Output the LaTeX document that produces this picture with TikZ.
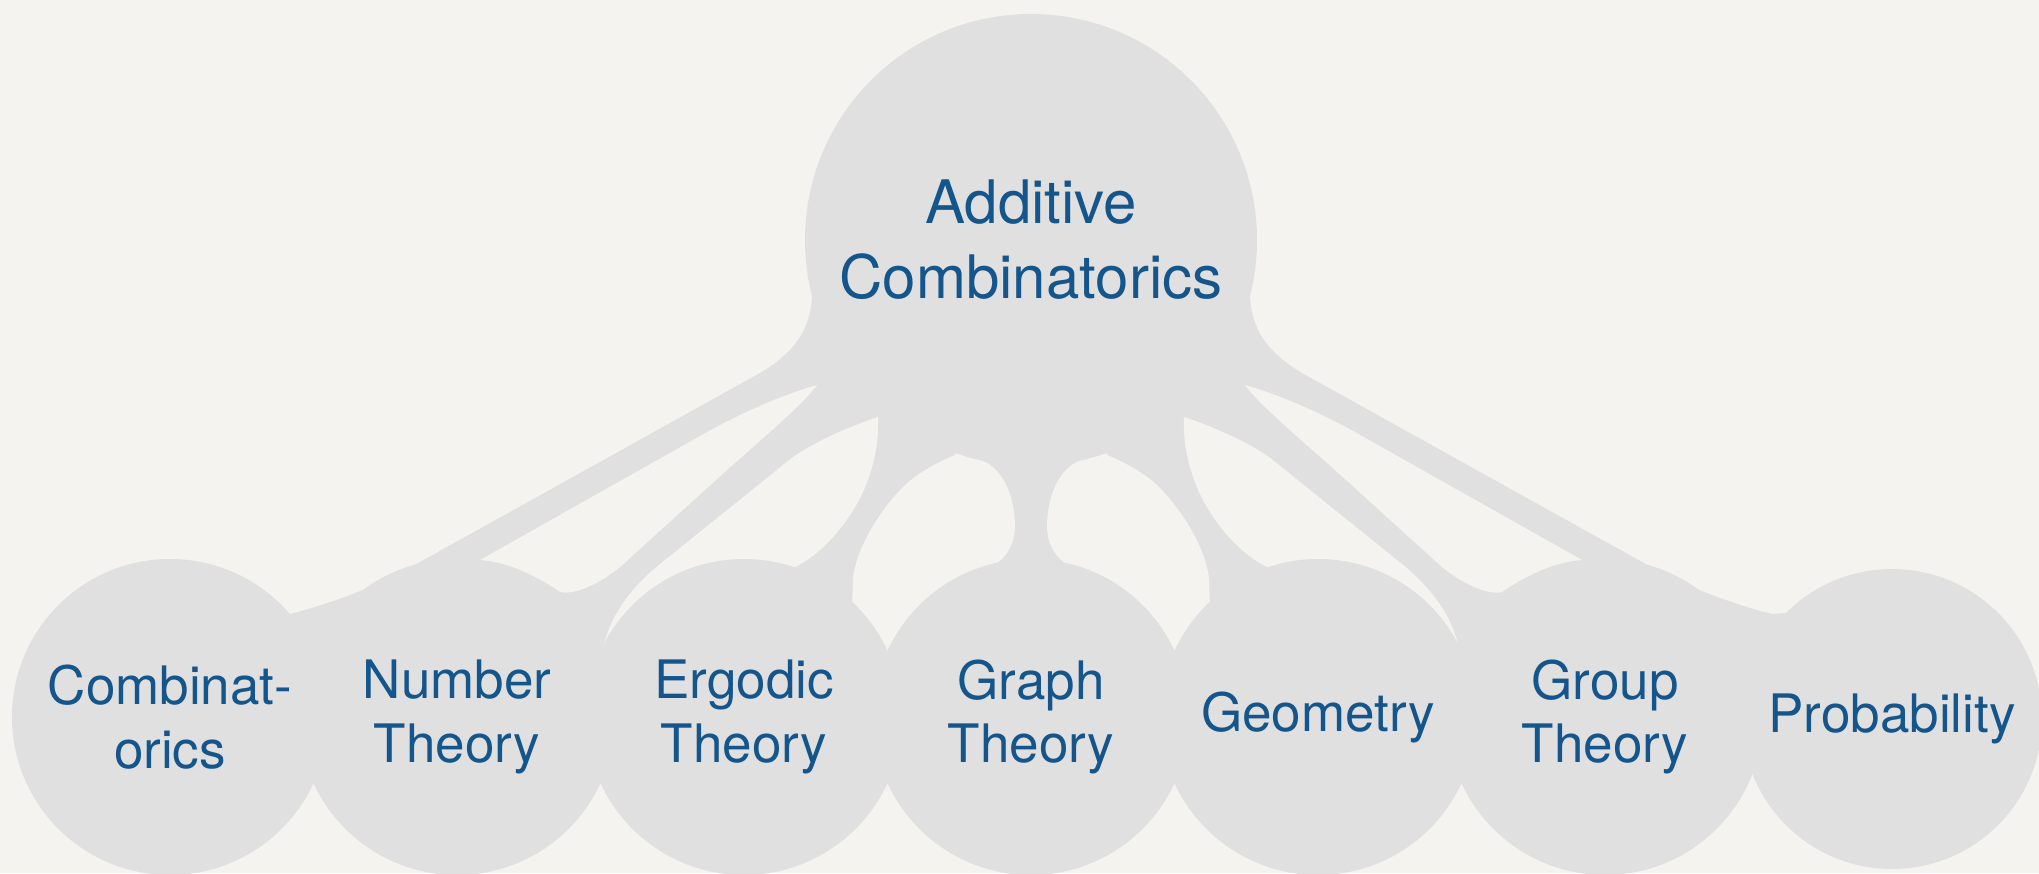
\documentclass[tikz,border=0pt]{standalone}
\usepackage{fontspec}
\setmainfont{TeX Gyre Heros}
\pgfdeclarelayer{bgl}
\pgfdeclarelayer{hulll}
\pgfdeclarelayer{arml}
\pgfdeclarelayer{gapl}
\pgfsetlayers{bgl,hulll,arml,gapl,main}
\definecolor{bgc}{RGB}{245,243,239}
\definecolor{blobc}{RGB}{224,224,224}
\definecolor{txtc}{RGB}{20,85,140}
\newcommand{\hullhalf}{%
  \fill[blobc] (1040,240) -- (812,297) .. controls (810,330) and (795,352) .. (760,373)
    -- (411,567) .. controls (380,585) and (330,604) .. (290,614)
    -- (280,640) -- (290,710) -- (1040,710) -- cycle;}
\newcommand{\gapshalf}{%
  \fill[bgc] (817,385) .. controls (785,394) and (742,412) .. (700,436) -- (480,560)
    .. controls (510,562) and (540,578) .. (560,592)
    .. controls (578,596) and (610,578) .. (630,558) -- (727,470)
    .. controls (770,432) and (805,402) .. (817,385) -- cycle;
  \fill[bgc] (878,417) .. controls (845,428) and (815,442) .. (793,457) -- (660,564)
    .. controls (628,590) and (608,620) .. (603,650) -- (640,690) -- (780,640) -- (793,568)
    .. controls (822,555) and (852,520) .. (866,485)
    .. controls (875,462) and (879,440) .. (878,417) -- cycle;
  \fill[bgc] (955,455) .. controls (935,463) and (915,475) .. (903,487)
    .. controls (880,510) and (855,550) .. (853,580) -- (852,608) -- (890,690)
    -- (993,600) -- (993,566) .. controls (1006,558) and (1015,545) .. (1015,525)
    .. controls (1014,490) and (1000,468) .. (983,461) -- (983,445) -- (955,440) -- cycle;}
\begin{document}
\begin{tikzpicture}[x=0.5pt,y=-0.5pt,
  blob/.style={circle, fill=blobc, inner sep=0pt, text=txtc, align=center},
  topfont/.style={font=\fontsize{30pt}{37.5pt}\selectfont},
  botfont/.style={font=\fontsize{26.5pt}{31.8pt}\selectfont},
  small/.style={blob, minimum size=158pt, botfont},
  arm/.style={draw=blobc, line width=9pt}]
\useasboundingbox (0,0) rectangle (2039,873);
\begin{pgfonlayer}{bgl}
  \fill[bgc] (0,0) rectangle (2039,873);
\end{pgfonlayer}
% nodes
\node[blob, minimum size=226pt, topfont] (T) at (1031,240) {Additive\\Combinatorics};
\node[small] (comb)  at (170,717)  {Combinat-\\orics};
\node[small] (nt)    at (457,717)  {Number\\Theory};
\node[small] (erg)   at (744,717)  {Ergodic\\Theory};
\node[small] (graph) at (1031,717) {Graph\\Theory};
\node[small] (geo)   at (1318,717) {Geometry};
\node[small] (grp)   at (1605,717) {Group\\Theory};
\node[small, minimum size=150pt] (prob) at (1892,719) {Probability};
% body with fillets
\begin{pgfonlayer}{hulll}
  \hullhalf
  \begin{scope}[shift={(2062,0)}, xscale=-1]
    \hullhalf
  \end{scope}
  \fill[blobc] (1772,614) -- (1787,613) -- (1787,650) -- (1772,650) -- cycle;
\end{pgfonlayer}
% arms (connectors)
\begin{pgfonlayer}{arml}
  \draw[arm] (T.210) -- (nt.95);
  \draw[arm] (T.218) .. controls (720,496) and (625,580) .. (erg.155);
  \draw[arm] (T.240) .. controls (895,470) and (850,530) .. (erg.55);
  \draw[arm] (T.270) -- (graph.90);
  \draw[arm] (T.300) .. controls (1167,470) and (1212,530) .. (geo.125);
  \draw[arm] (T.322) .. controls (1342,496) and (1437,580) .. (geo.25);
  \draw[arm] (T.330) -- (grp.85);
\end{pgfonlayer}
% gaps between arms
\begin{pgfonlayer}{gapl}
  \gapshalf
  \begin{scope}[shift={(2062,0)}, xscale=-1]
    \gapshalf
  \end{scope}
\end{pgfonlayer}
\end{tikzpicture}
\end{document}
